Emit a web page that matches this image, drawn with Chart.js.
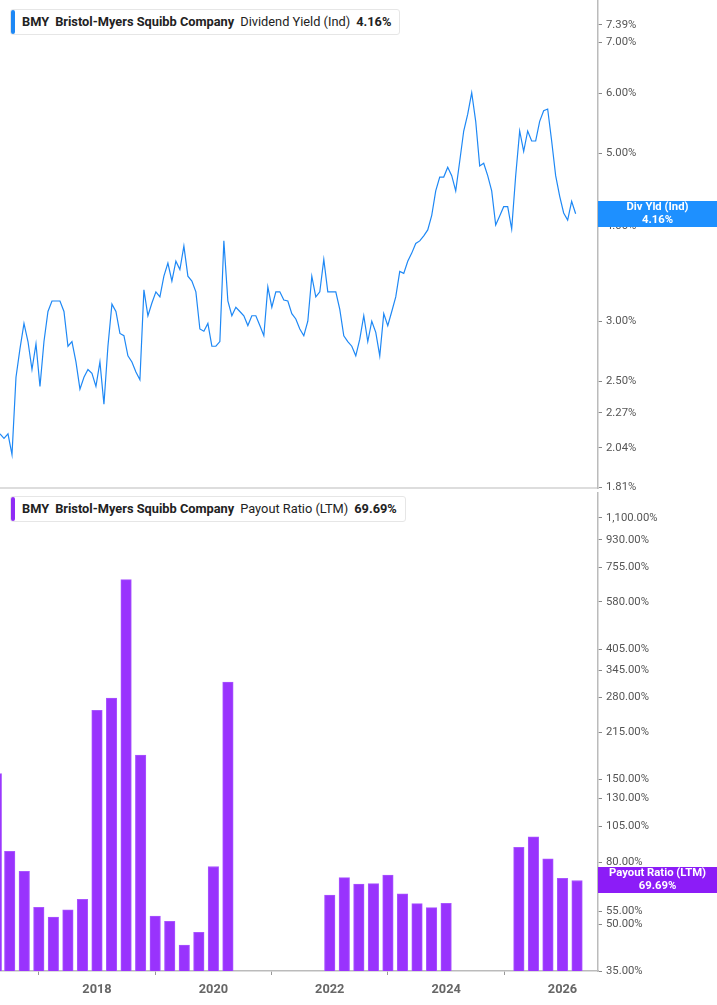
<!DOCTYPE html>
<html><head><meta charset="utf-8">
<script src="https://cdn.jsdelivr.net/npm/chart.js@4"></script>
<style>
body{margin:0;background:#fff;font-family:Roboto,"Noto Sans",sans-serif;}
#wrap{position:relative;width:717px;height:1005px;overflow:hidden;}
canvas{position:absolute;left:0;}
.leg{position:absolute;left:10px;height:24px;background:#fff;border:1px solid #e6e6e6;border-radius:3px;font-size:12.8px;color:#222;line-height:24px;padding:0 8px 0 11px;white-space:nowrap;}
.leg:before{content:"";position:absolute;left:0;top:0;bottom:0;width:4px;border-radius:2px;background:var(--c);}
.leg b{font-weight:700;margin-right:6px;}
.leg span{margin-right:6px;}
.tag{position:absolute;left:598px;width:119px;height:26px;color:#fff;font-size:11.3px;font-weight:700;text-align:center;line-height:12.5px;}
</style></head><body>
<div id="wrap">
<canvas id="c1" width="717" height="509" style="top:-10px"></canvas>
<canvas id="c2" width="717" height="524" style="top:481.5px"></canvas>
<div class="leg" style="top:9px;--c:#1e88f5"><b>BMY</b><b>Bristol-Myers Squibb Company</b><span>Dividend Yield (Ind)</span><b style="margin:0">4.16%</b></div>
<div class="leg" style="top:496px;--c:#8f2cf5"><b>BMY</b><b>Bristol-Myers Squibb Company</b><span>Payout Ratio (LTM)</span><b style="margin:0">69.69%</b></div>
<div class="tag" style="top:201px;background:#1e90ff">Div Yld (Ind)<br>4.16%</div>
<div class="tag" style="top:867px;background:#8c1cf7">Payout Ratio (LTM)<br>69.69%</div>
</div>
<script>
// Dividend yield (%), sampled roughly every 25 days starting mid-2016
const yieldStart = 2016.333;
const yieldStep = 0.0687;
const yieldValues = [2.13,2.10,2.13,2.00,2.53,2.76,2.98,2.82,2.59,2.80,2.46,2.82,3.09,3.19,3.19,3.19,3.09,2.78,2.82,2.65,
2.44,2.53,2.59,2.56,2.46,2.65,2.33,2.78,3.16,3.09,2.89,2.87,2.70,2.65,2.57,2.51,3.30,3.05,3.17,3.28,
3.23,3.44,3.58,3.39,3.60,3.51,3.77,3.44,3.39,3.28,2.93,2.91,2.98,2.78,2.78,2.82,3.83,3.19,3.05,3.13,
3.09,3.05,2.96,3.05,3.05,2.96,2.87,3.33,3.13,3.28,3.28,3.20,3.19,3.07,3.02,2.93,2.87,3.00,3.44,3.23,
3.28,3.62,3.28,3.28,3.28,3.11,2.87,2.82,2.78,2.70,2.84,3.05,2.82,3.00,2.90,2.70,3.07,2.96,3.09,3.23,
3.49,3.47,3.60,3.69,3.80,3.83,3.89,3.96,4.14,4.46,4.65,4.65,4.79,4.67,4.46,4.88,5.35,5.63,6.01,5.51,
4.81,4.85,4.67,4.46,4.02,4.13,4.25,4.25,3.97,4.67,5.35,5.03,5.35,5.19,5.19,5.51,5.69,5.72,5.19,4.67,
4.39,4.17,4.08,4.32,4.16];
const yieldTicks = [1.81,2.04,2.27,2.50,3.00,4.00,5.00,6.00,7.00,7.39];

// Payout ratio (LTM, %), quarterly
const payoutDates = [2016.27,2016.5,2016.75,2017.0,2017.25,2017.5,2017.75,2018.0,2018.25,2018.5,2018.75,2019.0,2019.25,2019.5,2019.75,2020.0,2020.25,
2022.0,2022.25,2022.5,2022.75,2023.0,2023.25,2023.5,2023.75,2024.0,
2025.25,2025.5,2025.75,2026.0,2026.25];
const payoutValues = [157,86.9,74.7,56.8,52.7,55.7,60.4,254,279,687,181,53.1,51.1,42.6,47.0,77.5,315,
62.4,71.2,67.8,68.0,72.6,63.0,58.4,56.7,58.6,
89.7,97.1,82.2,70.8,69.69];
const payoutTicks = [35,50,55,80,105,130,150,215,280,345,405,580,755,930,1100];
const yearTicks = [2018,2020,2022,2024,2026];

const XMIN = 2016.333, XMAX = 2026.61;
const FONT = {family:'Roboto', size:11.3};
const fmt = v => Number(v).toLocaleString('en-US',{minimumFractionDigits:2,maximumFractionDigits:2})+'%';
const fitW = s => { s.width = 119; };

function yAxis(min,max,ticks){
  return {type:'logarithmic',position:'right',min,max,
    afterBuildTicks:s=>{s.ticks=ticks.map(v=>({value:v}));},
    afterFit:fitW,
    border:{color:'#bbb',width:1.5},
    grid:{display:true,drawOnChartArea:false,tickLength:4,tickColor:'#888'},
    ticks:{color:'#555',font:FONT,padding:4,callback:v=>fmt(v),autoSkip:false}};
}

new Chart(document.getElementById('c1'),{
  type:'line',
  data:{datasets:[{data:yieldValues.map((v,i)=>({x:yieldStart+i*yieldStep,y:v})),
    borderColor:'#1e88f5',borderWidth:1.2,pointRadius:0,tension:0}]},
  options:{responsive:false,animation:false,
    layout:{padding:0},
    plugins:{legend:{display:false},tooltip:{enabled:false}},
    scales:{
      x:{type:'linear',min:XMIN,max:XMAX,
        afterFit:s=>{s.height=3;},
        border:{color:'#ddd',width:2},
        grid:{display:false},ticks:{display:false}},
      y:yAxis(1.805,7.95,yieldTicks)
    }}
});

new Chart(document.getElementById('c2'),{
  type:'bar',
  data:{datasets:[{data:payoutDates.map((d,i)=>({x:d,y:payoutValues[i]})),
    backgroundColor:'#9933fd',borderColor:'#a855ff',borderWidth:{left:1,right:1,top:1,bottom:0},
    barThickness:10.5}]},
  options:{responsive:false,animation:false,
    layout:{padding:0},
    plugins:{legend:{display:false},tooltip:{enabled:false}},
    scales:{
      x:{type:'linear',min:XMIN,max:XMAX,offset:false,
        afterBuildTicks:s=>{s.ticks=yearTicks.map(v=>({value:v}));},
        afterFit:s=>{s.height=35;},
        border:{color:'#bbb',width:1.5},
        grid:{display:true,drawOnChartArea:false,tickLength:4,tickColor:'#999'},
        ticks:{color:'#666',font:{family:'Roboto',size:12.8,weight:'bold'},padding:7,callback:v=>String(v),maxRotation:0}},
      y:yAxis(35,1330,payoutTicks)
    }}
});
</script>
</body></html>
